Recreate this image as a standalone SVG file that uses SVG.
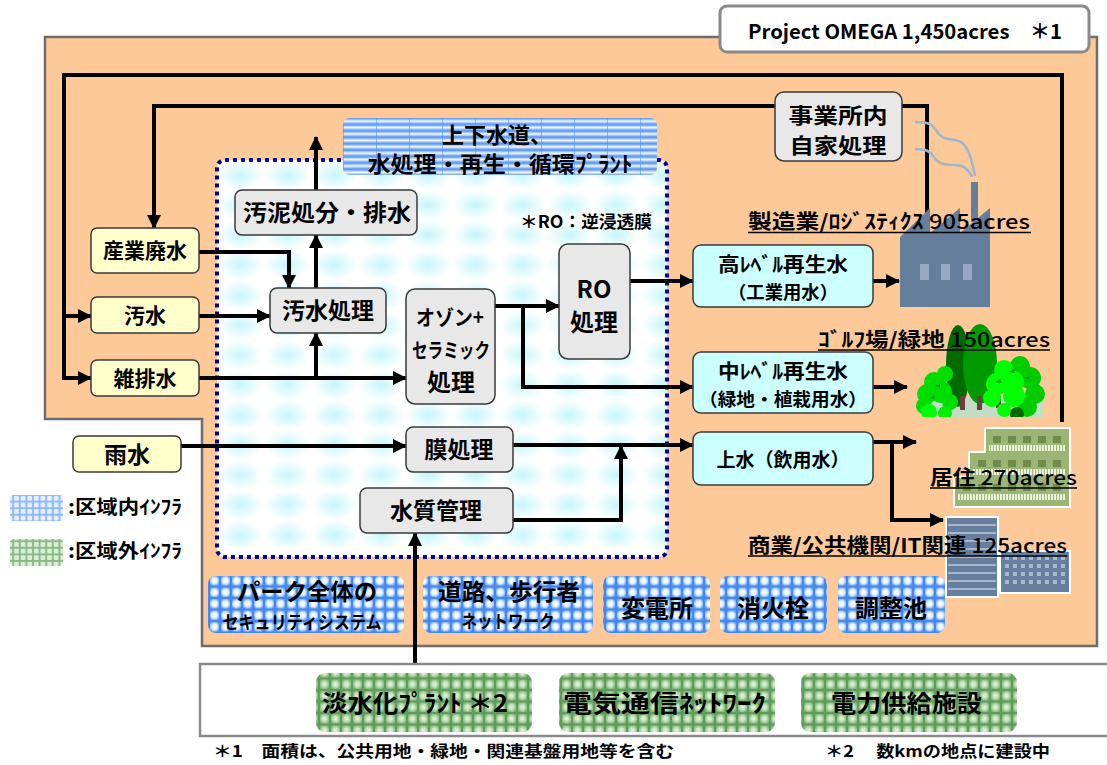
<svg xmlns="http://www.w3.org/2000/svg" width="1107" height="765" viewBox="0 0 1107 765">
  <style>
    .t { font-family: 'Noto Sans CJK JP', 'Noto Sans', sans-serif; font-weight: 700; fill: #000; text-anchor: middle; }
    .ts { font-family: 'Noto Sans CJK JP', 'Noto Sans', sans-serif; font-weight: 700; fill: #000; }
    .gray { fill: #e8e8e8; stroke: #3a3a3a; stroke-width: 1.5; }
    .yel { fill: #ffffcc; stroke: #3a3a3a; stroke-width: 1.5; }
    .cyan { fill: #ccffff; stroke: #3a3a3a; stroke-width: 1.5; }
    .tileB { fill: url(#pBlue); }
    .tileG { fill: url(#pGreen); }
    .flow { fill: none; stroke: #000; stroke-width: 4; stroke-linejoin: miter; }
    .arr { marker-end: url(#ah); }
    .ul { stroke: #000; stroke-width: 1.5; }
  </style>
  <defs>
    <marker id="ah" viewBox="0 0 14 14" refX="13" refY="7" markerWidth="14" markerHeight="14" markerUnits="userSpaceOnUse" orient="auto">
      <path d="M0,0 L14,7 L0,14 Z" fill="#000"/>
    </marker>
    <!-- blue grid cell -->
    <radialGradient id="gCellB" cx="0.5" cy="0.5" r="0.6">
      <stop offset="0" stop-color="#ffffff"/>
      <stop offset="0.5" stop-color="#e8f2ff"/>
      <stop offset="1" stop-color="#5a99f2"/>
    </radialGradient>
    <pattern id="pBlue" width="11" height="11.5" patternUnits="userSpaceOnUse">
      <rect width="11" height="11.5" fill="#4288ee"/>
      <rect x="1" y="1" width="9" height="9.5" fill="url(#gCellB)"/>
    </pattern>
    <!-- wide bars for the plant title tile -->
    <linearGradient id="gBar" x1="0" y1="0" x2="0" y2="1">
      <stop offset="0" stop-color="#4a8ef0"/>
      <stop offset="0.5" stop-color="#f4f8ff"/>
      <stop offset="1" stop-color="#4a8ef0"/>
    </linearGradient>
    <pattern id="pBlueBar" width="33" height="6.4" patternUnits="userSpaceOnUse" x="343" y="118">
      <rect width="33" height="6.4" fill="url(#gBar)"/>
      <rect x="0" width="1" height="6.4" fill="#5a95ea" opacity="0.6"/>
    </pattern>
    <!-- green grid cell -->
    <radialGradient id="gCellG" cx="0.5" cy="0.5" r="0.6">
      <stop offset="0" stop-color="#e6f6e0"/>
      <stop offset="0.45" stop-color="#c4e2b8"/>
      <stop offset="1" stop-color="#74ad70"/>
    </radialGradient>
    <pattern id="pGreen" width="11" height="11.5" patternUnits="userSpaceOnUse">
      <rect width="11" height="11.5" fill="#5e9b5c"/>
      <rect x="1" y="1" width="9" height="9.5" fill="url(#gCellG)"/>
    </pattern>
    <pattern id="pBlueS" width="6.6" height="6.6" patternUnits="userSpaceOnUse">
      <rect width="6.6" height="6.6" fill="#8fbaf6"/>
      <rect x="1" y="1" width="4.6" height="4.6" fill="#e6f0ff"/>
    </pattern>
    <pattern id="pGreenS" width="6.6" height="6.6" patternUnits="userSpaceOnUse">
      <rect width="6.6" height="6.6" fill="#8cb98a"/>
      <rect x="1" y="1" width="4.6" height="4.6" fill="#dcefd6"/>
    </pattern>
    <!-- soft cyan background of the treatment plant area -->
    <radialGradient id="gWater" cx="0.5" cy="0.5" r="0.5">
      <stop offset="0" stop-color="#c6f6fb"/>
      <stop offset="1" stop-color="#ffffff"/>
    </radialGradient>
    <pattern id="pWater" width="47" height="30" patternUnits="userSpaceOnUse" x="217" y="160">
      <rect width="47" height="30" fill="#ffffff"/>
      <ellipse cx="23.5" cy="15" rx="23" ry="15" fill="url(#gWater)"/>
    </pattern>
    <pattern id="pRail" width="3" height="7" patternUnits="userSpaceOnUse">
      <rect width="3" height="7" fill="#eef2e2"/>
      <rect x="0" width="1" height="7" fill="#9ab574"/>
    </pattern>
    <clipPath id="treeClip"><rect x="910" y="320" width="140" height="97"/></clipPath>
  </defs>

  <!-- site area -->
  <g id="site">
    <path d="M45,37 H1097 V646 H202 V419 H45 Z" fill="#fec999" stroke="#6e6e6e" stroke-width="2.5"/>
  </g>
  <g id="project-label">
    <rect x="720" y="6" width="369" height="46" rx="7" fill="#fff" stroke="#8a8a8a" stroke-width="3"/>
    <text class="ts" x="748" y="39" font-size="20" font-weight="500" textLength="314" lengthAdjust="spacingAndGlyphs">Project OMEGA 1,450acres　＊1</text>
  </g>

  <!-- water treatment plant area -->
  <g id="plant-area">
    <rect x="217" y="160" width="450" height="397" rx="8" fill="url(#pWater)" stroke="#000099" stroke-width="4" stroke-dasharray="4 4"/>
  </g>
  <g id="plant-title">
    <rect x="343" y="118" width="314" height="57" rx="7" fill="url(#pBlueBar)"/>
    <text class="t" x="497" y="143" font-size="22">上下水道、</text>
    <text class="t" x="500" y="172" font-size="22" textLength="265" lengthAdjust="spacingAndGlyphs">水処理・再生・循環ﾌﾟﾗﾝﾄ</text>
  </g>
  <text class="ts" x="520" y="228" font-size="17" font-weight="500" textLength="132" lengthAdjust="spacingAndGlyphs">＊RO：逆浸透膜</text>

  <!-- connectors -->
  <g id="connectors">
    <path class="flow arr" d="M1062,422 V75 H64 V378 H91"/>
    <path class="flow arr" d="M64,316 H91"/>
    <path class="flow" d="M902,106 H927 V237"/>
    <path class="flow arr" d="M775,106 H154 V228"/>
    <path class="flow arr" d="M199,252 H289 V288"/>
    <path class="flow arr" d="M199,316 H270"/>
    <path class="flow arr" d="M199,378 H406"/>
    <path class="flow arr" d="M316,378 V333"/>
    <path class="flow arr" d="M316,288 V235"/>
    <path class="flow arr" d="M316,190 V137"/>
    <path class="flow arr" d="M495,306 H559"/>
    <path class="flow arr" d="M523,306 V387 H693"/>
    <path class="flow arr" d="M630,281 H693"/>
    <path class="flow arr" d="M873,281 H899"/>
    <path class="flow arr" d="M873,387 H907"/>
    <path class="flow arr" d="M873,442 H916"/>
    <path class="flow arr" d="M892,442 V520 H943"/>
    <path class="flow arr" d="M181,446 H406"/>
    <path class="flow arr" d="M513,445 H693"/>
    <path class="flow arr" d="M513,520 H621 V446"/>
    <path class="flow arr" d="M415,674 V533"/>
  </g>

  <!-- source nodes -->
  <g id="n-sangyo">
    <rect class="yel" x="91" y="228" width="108" height="45" rx="6"/>
    <text class="t" x="145" y="258" font-size="21">産業廃水</text>
  </g>
  <g id="n-osui">
    <rect class="yel" x="91" y="297" width="108" height="36" rx="6"/>
    <text class="t" x="145" y="323" font-size="21">汚水</text>
  </g>
  <g id="n-zatsu">
    <rect class="yel" x="91" y="360" width="108" height="36" rx="6"/>
    <text class="t" x="145" y="386" font-size="21">雑排水</text>
  </g>
  <g id="n-usui">
    <rect class="yel" x="73" y="436" width="108" height="36" rx="6"/>
    <text class="t" x="127" y="463" font-size="23">雨水</text>
  </g>

  <!-- treatment nodes -->
  <g id="n-jigyo">
    <rect class="gray" x="775" y="92" width="127" height="69" rx="9"/>
    <text class="t" x="838" y="123" font-size="21" textLength="99" lengthAdjust="spacingAndGlyphs">事業所内</text>
    <text class="t" x="838" y="153" font-size="21" textLength="97" lengthAdjust="spacingAndGlyphs">自家処理</text>
  </g>
  <g id="n-odei">
    <rect class="gray" x="235" y="190" width="182" height="45" rx="7"/>
    <text class="t" x="327" y="221" font-size="23" textLength="168" lengthAdjust="spacingAndGlyphs">汚泥処分・排水</text>
  </g>
  <g id="n-osui-shori">
    <rect class="gray" x="270" y="288" width="116" height="45" rx="7"/>
    <text class="t" x="328" y="319" font-size="23">汚水処理</text>
  </g>
  <g id="n-ozone">
    <rect class="gray" x="406" y="289" width="89" height="115" rx="9"/>
    <text class="t" x="450" y="325" font-size="21" textLength="68" lengthAdjust="spacingAndGlyphs">オゾン+</text>
    <text class="t" x="451" y="358" font-size="20" textLength="78" lengthAdjust="spacingAndGlyphs">セラミック</text>
    <text class="t" x="451" y="391" font-size="24">処理</text>
  </g>
  <g id="n-ro">
    <rect class="gray" x="559" y="244" width="71" height="115" rx="9"/>
    <text class="t" x="594" y="298" font-size="24">RO</text>
    <text class="t" x="594" y="331" font-size="24">処理</text>
  </g>
  <g id="n-maku">
    <rect class="gray" x="406" y="427" width="107" height="45" rx="7"/>
    <text class="t" x="459" y="458" font-size="23">膜処理</text>
  </g>
  <g id="n-suishitsu">
    <rect class="gray" x="360" y="488" width="153" height="45" rx="7"/>
    <text class="t" x="436" y="519" font-size="23">水質管理</text>
  </g>

  <!-- output water nodes -->
  <g id="n-high">
    <rect class="cyan" x="693" y="245" width="180" height="62" rx="8"/>
    <text class="t" x="783" y="272" font-size="20" textLength="130" lengthAdjust="spacingAndGlyphs">高ﾚﾍﾞﾙ再生水</text>
    <text class="t" x="783" y="299" font-size="18" textLength="110" lengthAdjust="spacingAndGlyphs">（工業用水）</text>
  </g>
  <g id="n-mid">
    <rect class="cyan" x="693" y="352" width="180" height="61" rx="8"/>
    <text class="t" x="783" y="379" font-size="20" textLength="130" lengthAdjust="spacingAndGlyphs">中ﾚﾍﾞﾙ再生水</text>
    <text class="t" x="783" y="406" font-size="18" textLength="168" lengthAdjust="spacingAndGlyphs">（緑地・植栽用水）</text>
  </g>
  <g id="n-josui">
    <rect class="cyan" x="693" y="432" width="180" height="53" rx="8"/>
    <text class="t" x="783" y="467" font-size="19">上水（飲用水）</text>
  </g>

  <!-- on-site infrastructure -->
  <g id="i-security">
    <rect class="tileB" x="208" y="576" width="196" height="57" rx="8"/>
    <text class="t" x="307" y="600" font-size="23" textLength="140" lengthAdjust="spacingAndGlyphs">パーク全体の</text>
    <text class="t" x="302" y="629" font-size="18" textLength="159" lengthAdjust="spacingAndGlyphs">セキュリティシステム</text>
  </g>
  <g id="i-road">
    <rect class="tileB" x="423" y="576" width="170" height="57" rx="8"/>
    <text class="t" x="509" y="600" font-size="23" textLength="142" lengthAdjust="spacingAndGlyphs">道路、歩行者</text>
    <text class="t" x="508" y="628" font-size="18" textLength="93" lengthAdjust="spacingAndGlyphs">ネットワーク</text>
  </g>
  <g id="i-substation">
    <rect class="tileB" x="603" y="576" width="107" height="57" rx="8"/>
    <text class="t" x="657" y="617" font-size="24">変電所</text>
  </g>
  <g id="i-hydrant">
    <rect class="tileB" x="720" y="576" width="107" height="57" rx="8"/>
    <text class="t" x="773" y="617" font-size="24">消火栓</text>
  </g>
  <g id="i-pond">
    <rect class="tileB" x="838" y="576" width="107" height="57" rx="8"/>
    <text class="t" x="891" y="617" font-size="24">調整池</text>
  </g>

  <!-- legend -->
  <g id="legend">
    <rect x="10" y="495" width="53" height="26" rx="4" fill="url(#pBlueS)"/>
    <text class="ts" x="68" y="514" font-size="19" textLength="114" lengthAdjust="spacingAndGlyphs">:区域内ｲﾝﾌﾗ</text>
    <rect x="10" y="539" width="53" height="27" rx="4" fill="url(#pGreenS)"/>
    <text class="ts" x="68" y="558" font-size="19" textLength="114" lengthAdjust="spacingAndGlyphs">:区域外ｲﾝﾌﾗ</text>
  </g>

  <!-- off-site infrastructure -->
  <g id="offsite">
    <rect x="200" y="664" width="920" height="72" fill="#fff" stroke="#8a8a8a" stroke-width="2.5"/>
  </g>
  <g id="o-desal">
    <rect class="tileG" x="316" y="673" width="216" height="59" rx="9"/>
    <text class="ts" x="322" y="712" font-size="24" textLength="186" lengthAdjust="spacingAndGlyphs">淡水化ﾌﾟﾗﾝﾄ ＊2</text>
  </g>
  <g id="o-telecom">
    <rect class="tileG" x="559" y="673" width="216" height="59" rx="9"/>
    <text class="ts" x="563" y="712" font-size="24" textLength="203" lengthAdjust="spacingAndGlyphs">電気通信ﾈｯﾄﾜｰｸ</text>
  </g>
  <g id="o-power">
    <rect class="tileG" x="801" y="673" width="216" height="59" rx="9"/>
    <text class="ts" x="831" y="712" font-size="24" textLength="151" lengthAdjust="spacingAndGlyphs">電力供給施設</text>
  </g>

  <!-- footnotes -->
  <text class="ts" x="213" y="757" font-size="16" textLength="461" lengthAdjust="spacingAndGlyphs">＊1　面積は、公共用地・緑地・関連基盤用地等を含む</text>
  <text class="ts" x="825" y="757" font-size="16" textLength="225" lengthAdjust="spacingAndGlyphs">＊2　 数kmの地点に建設中</text>

  <!-- factory -->
  <g id="factory">
    <path d="M915,122 C928,122 932,124 936,130 C940,138 946,139 955,140 C965,141 970,150 975,176" fill="none" stroke="#9fb6cf" stroke-width="2.5"/>
    <path d="M915,149 C926,149 930,151 934,157 C938,164 944,165 955,165 C964,165 969,170 972,177" fill="none" stroke="#9fb6cf" stroke-width="2.5"/>
    <rect x="971" y="182" width="7" height="40" fill="#647e9c"/>
    <path d="M900,237 L930,208 V233 L960,208 V233 L990,208 V307 H900 Z" fill="#647e9c"/>
    <rect x="920" y="264" width="9" height="16" fill="#97a9c2"/>
    <rect x="941" y="264" width="9" height="16" fill="#97a9c2"/>
    <rect x="963" y="264" width="9" height="16" fill="#97a9c2"/>
  </g>

  <!-- golf course / green trees -->
  <g id="trees" clip-path="url(#treeClip)">
    <rect x="925" y="398" width="118" height="22" fill="#c4dcc4"/>
    <ellipse cx="958" cy="366" rx="12" ry="41" fill="#006b00"/>
    <ellipse cx="980" cy="364" rx="17" ry="40" fill="#009900"/>
    <rect x="960" y="396" width="5" height="14" fill="#6b4040"/>
    <rect x="977" y="396" width="5" height="14" fill="#6b4040"/>
    <rect x="996" y="396" width="5" height="12" fill="#6b4040"/>
    <g fill="#00dd00">
      <circle cx="934" cy="382" r="10"/>
      <circle cx="945" cy="374" r="8"/>
      <circle cx="927" cy="394" r="10"/>
      <circle cx="941" cy="392" r="11"/>
      <circle cx="924" cy="406" r="8"/>
      <circle cx="950" cy="402" r="8"/>
    </g>
    <circle cx="929" cy="412" r="8" fill="#00ff00"/>
    <circle cx="945" cy="413" r="7" fill="#00ee00"/>
    <g fill="#00cc00">
      <circle cx="1020" cy="366" r="10"/>
      <circle cx="1030" cy="378" r="11"/>
      <circle cx="1035" cy="394" r="10"/>
      <circle cx="1027" cy="407" r="10"/>
    </g>
    <g fill="#00ff00">
      <circle cx="1004" cy="370" r="10"/>
      <circle cx="997" cy="384" r="11"/>
      <circle cx="1013" cy="382" r="11"/>
      <circle cx="1014" cy="396" r="11"/>
      <circle cx="992" cy="398" r="9"/>
      <circle cx="1004" cy="410" r="7"/>
    </g>
    <circle cx="1017" cy="414" r="7" fill="#006b00"/>
    <path d="M995,382 l5,-3 l2,4 z M1008,372 l6,-3 l1,4 z M1024,378 l5,-2 l1,4 z M935,386 l5,-2 l0,4 z M930,398 l4,-3 l1,4 z" fill="#009900"/>
  </g>

  <!-- residential block -->
  <g id="residential">
    <path d="M985,428 H1070 V507 H954 V477 H969 V452 H985 Z" fill="#9ab574" stroke="#ffffff" stroke-width="2"/>
    <g fill="#6f8c4a">
      <rect x="993" y="436" width="8" height="7"/><rect x="1008" y="436" width="8" height="7"/><rect x="1023" y="436" width="8" height="7"/><rect x="1038" y="436" width="8" height="7"/><rect x="1053" y="436" width="8" height="7"/>
      <rect x="978" y="460" width="8" height="7"/><rect x="993" y="460" width="8" height="7"/><rect x="1008" y="460" width="8" height="7"/><rect x="1023" y="460" width="8" height="7"/><rect x="1038" y="460" width="8" height="7"/><rect x="1053" y="460" width="8" height="7"/>
      <rect x="963" y="484" width="8" height="7"/><rect x="978" y="484" width="8" height="7"/><rect x="993" y="484" width="8" height="7"/><rect x="1008" y="484" width="8" height="7"/><rect x="1023" y="484" width="8" height="7"/><rect x="1038" y="484" width="8" height="7"/><rect x="1053" y="484" width="8" height="7"/>
    </g>
    <rect x="989" y="445" width="77" height="6" fill="url(#pRail)"/>
    <rect x="973" y="469" width="93" height="6" fill="url(#pRail)"/>
    <rect x="958" y="494" width="108" height="6" fill="url(#pRail)"/>
  </g>

  <!-- commercial buildings -->
  <g id="commercial">
    <rect x="946" y="517" width="52" height="80" fill="#667f9f" stroke="#ffffff" stroke-width="2"/>
    <g fill="#a7b7cb">
      <rect x="948" y="524" width="48" height="2"/><rect x="948" y="532" width="48" height="2"/><rect x="948" y="540" width="48" height="2"/><rect x="948" y="548" width="48" height="2"/><rect x="948" y="556" width="48" height="2"/><rect x="948" y="564" width="48" height="2"/><rect x="948" y="572" width="48" height="2"/><rect x="948" y="580" width="48" height="2"/><rect x="948" y="588" width="48" height="2"/>
    </g>
    <rect x="1000" y="551" width="70" height="42" fill="#667f9f" stroke="#ffffff" stroke-width="2"/>
    <g fill="#a9b9cc">
      <rect x="1005" y="556" width="4" height="4"/><rect x="1013" y="556" width="4" height="4"/><rect x="1021" y="556" width="4" height="4"/><rect x="1029" y="556" width="4" height="4"/><rect x="1037" y="556" width="4" height="4"/><rect x="1045" y="556" width="4" height="4"/><rect x="1053" y="556" width="4" height="4"/><rect x="1061" y="556" width="4" height="4"/>
      <rect x="1005" y="564" width="4" height="4"/><rect x="1013" y="564" width="4" height="4"/><rect x="1021" y="564" width="4" height="4"/><rect x="1029" y="564" width="4" height="4"/><rect x="1037" y="564" width="4" height="4"/><rect x="1045" y="564" width="4" height="4"/><rect x="1053" y="564" width="4" height="4"/><rect x="1061" y="564" width="4" height="4"/>
      <rect x="1005" y="572" width="4" height="4"/><rect x="1013" y="572" width="4" height="4"/><rect x="1021" y="572" width="4" height="4"/><rect x="1029" y="572" width="4" height="4"/><rect x="1037" y="572" width="4" height="4"/><rect x="1045" y="572" width="4" height="4"/><rect x="1053" y="572" width="4" height="4"/><rect x="1061" y="572" width="4" height="4"/>
      <rect x="1005" y="580" width="4" height="4"/><rect x="1013" y="580" width="4" height="4"/><rect x="1021" y="580" width="4" height="4"/><rect x="1029" y="580" width="4" height="4"/><rect x="1037" y="580" width="4" height="4"/><rect x="1045" y="580" width="4" height="4"/><rect x="1053" y="580" width="4" height="4"/><rect x="1061" y="580" width="4" height="4"/>
    </g>
  </g>

  <!-- land-use labels -->
  <g id="labels">
    <text class="ts" x="748" y="229" font-size="20" textLength="282" lengthAdjust="spacingAndGlyphs">製造業/ﾛｼﾞｽﾃｨｸｽ <tspan font-weight="500">905acres</tspan></text>
    <line class="ul" x1="748" y1="232.5" x2="1031" y2="232.5"/>
    <text class="ts" x="818" y="347" font-size="20" textLength="232" lengthAdjust="spacingAndGlyphs">ｺﾞﾙﾌ場/緑地 <tspan font-weight="500">150acres</tspan></text>
    <line class="ul" x1="818" y1="350" x2="1050" y2="350"/>
    <text class="ts" x="930" y="485" font-size="20" textLength="147" lengthAdjust="spacingAndGlyphs">居住 <tspan font-weight="500">270acres</tspan></text>
    <line class="ul" x1="930" y1="488" x2="1077" y2="488"/>
    <text class="ts" x="748" y="553" font-size="20" textLength="319" lengthAdjust="spacingAndGlyphs">商業/公共機関/IT関連 <tspan font-weight="500">125acres</tspan></text>
    <line class="ul" x1="748" y1="556" x2="1067" y2="556"/>
  </g>
</svg>
